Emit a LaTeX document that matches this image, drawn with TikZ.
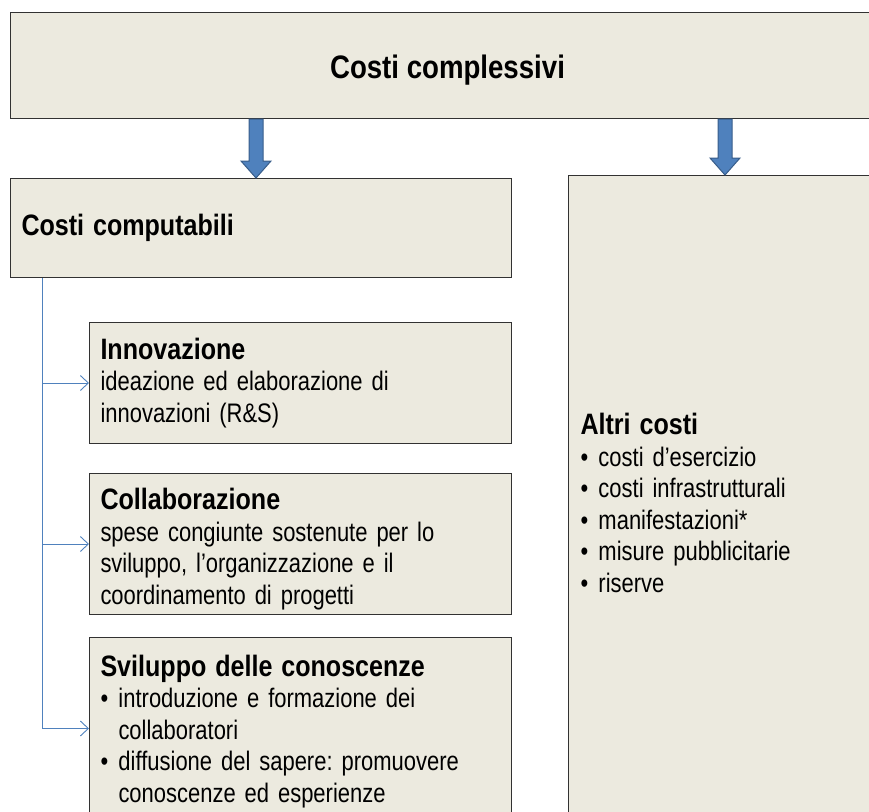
\documentclass[tikz,border=0pt]{standalone}
\usepackage{fontspec}
\setmainfont[FakeStretch=0.82]{Liberation Sans}
\newfontfamily\headfont[FakeStretch=0.85]{Liberation Sans}
\usetikzlibrary{arrows.meta}
\usetikzlibrary{calc,positioning}

\definecolor{boxfill}{RGB}{236,234,223}
\definecolor{boxline}{RGB}{50,50,50}
\definecolor{barrow}{RGB}{79,129,189}
\definecolor{barrowedge}{RGB}{56,93,138}

\hyphenpenalty=10000
\exhyphenpenalty=10000
\frenchspacing
\newcommand{\boxhead}[1]{{\headfont\fontsize{29.5}{33}\selectfont\bfseries #1\par}}
\newcommand{\blt}[1]{\hangindent=18pt\hangafter=1\noindent\makebox[18pt][l]{\textbullet}#1\par}
\newcommand{\pushdown}[2]{\raisebox{0pt}[\dimexpr\height+#1\relax][\depth]{#2}}

\begin{document}
\begin{tikzpicture}[x=1pt,y=-1pt,
    box/.style={draw=boxline, fill=boxfill, line width=1pt, anchor=north west,
                inner xsep=11pt, align=left, font=\fontsize{26.8}{31.5}\selectfont},
    blockarrow/.style={fill=barrow, draw=barrowedge, line width=1pt, line join=miter},
    conn/.style={draw=barrow, line width=0.9pt}]
  \useasboundingbox (0,0) rectangle (869,811);
  \clip (0,0) rectangle (869,811);
  % top box
  \node[box, minimum width=874pt, minimum height=106pt, align=center,
        font=\headfont\fontsize{32.5}{36}\selectfont\bfseries] (total) at (10,12)
    {\pushdown{10pt}{Costi complessivi}};
  % left column
  \node[box, minimum width=501pt, minimum height=99pt, text width=479pt] (comp) at (10,178)
    {\boxhead{Costi computabili}};
  \node[box, minimum width=422pt, minimum height=121pt, text width=400pt] (inno) at (89,322)
    {\boxhead{Innovazione}ideazione ed elaborazione di\\innovazioni (R\&S)};
  \node[box, minimum width=422pt, minimum height=141pt, text width=400pt] (coll) at (89,473)
    {\pushdown{10pt}{\parbox{400pt}{\boxhead{Collaborazione}spese congiunte sostenute per lo\\
     sviluppo, l’organizzazione e il\\coordinamento di progetti}}};
  \node[box, minimum width=422pt, minimum height=182pt, text width=400pt] (svil) at (89,637)
    {\pushdown{6pt}{\parbox{400pt}{\boxhead{Sviluppo delle conoscenze}%
     \blt{introduzione e formazione dei collaboratori}%
     \blt{diffusione del sapere: promuovere conoscenze ed esperienze}}}};
  % right column
  \node[box, minimum width=320pt, minimum height=655pt, text width=296pt, inner xsep=12pt] (altri) at (568,175)
    {\boxhead{Altri costi}%
     \blt{costi d’esercizio}%
     \blt{costi infrastrutturali}%
     \blt{manifestazioni*}%
     \blt{misure pubblicitarie}%
     \blt{riserve}};
  % block arrows
  \foreach \x/\t in {256/comp,725/altri} {
    \path (\x,0 |- total.south) coordinate (s) (\x,0 |- \t.north) coordinate (e);
    \draw[blockarrow] ($(s)+(-7,0)$) -- ($(s)+(7,0)$) -- ($(e)+(7,-17)$) -- ($(e)+(15,-17)$)
      -- (e) -- ($(e)+(-15,-17)$) -- ($(e)+(-7,-17)$) -- cycle;
  }
  % connector
  \coordinate (trunk) at ($(comp.south west)+(32,0)$);
  \draw[conn] (trunk) -- (trunk |- svil.west);
  \foreach \b in {inno,coll,svil}
    \draw[conn, -{Straight Barb[length=8pt,width=15pt]}] (trunk |- \b.west) -- (\b.west);
\end{tikzpicture}
\end{document}
